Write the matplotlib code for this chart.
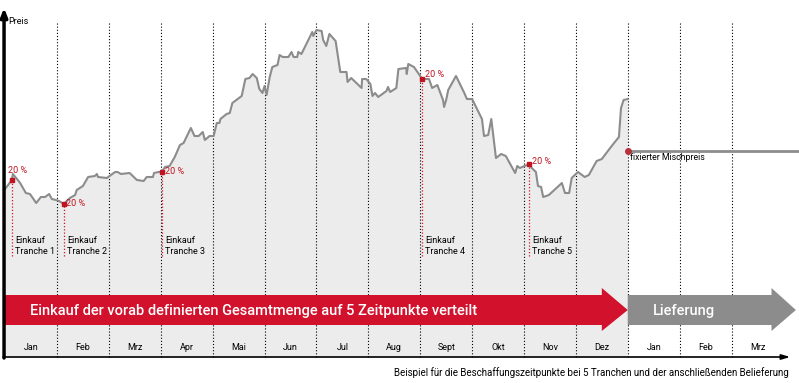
import numpy as np
import matplotlib.pyplot as plt
from matplotlib.patches import Polygon

plt.rcParams['font.family'] = ['Roboto', 'DejaVu Sans']

# price path (month position, price index)
months = np.array([
    0.00, 0.13, 0.15, 0.29, 0.40, 0.48, 0.60, 0.69, 0.77, 0.85, 0.90, 0.98,
    1.04, 1.13, 1.25, 1.35, 1.38, 1.50, 1.60, 1.73, 1.77, 1.79, 1.96, 2.12,
    2.17, 2.23, 2.40, 2.54, 2.67, 2.73, 2.85, 2.87, 2.96, 3.02, 3.08, 3.17,
    3.27, 3.37, 3.44, 3.58, 3.65, 3.73, 3.81, 3.85, 3.94, 4.02, 4.08, 4.13,
    4.15, 4.27, 4.33, 4.38, 4.56, 4.63, 4.71, 4.77, 4.85, 4.90, 4.96, 5.00,
    5.04, 5.10, 5.15, 5.25, 5.29, 5.35, 5.46, 5.52, 5.56, 5.63, 5.65, 5.71,
    5.73, 5.92, 5.94, 6.00, 6.10, 6.13, 6.19, 6.25, 6.37, 6.46, 6.58, 6.60,
    6.67, 6.87, 6.88, 6.96, 7.04, 7.08, 7.13, 7.19, 7.35, 7.38, 7.42, 7.54,
    7.58, 7.73, 7.74, 7.77, 7.88, 7.96, 8.04, 8.17, 8.23, 8.33, 8.44, 8.46,
    8.50, 8.54, 8.69, 8.85, 8.90, 9.00, 9.19, 9.23, 9.31, 9.37, 9.46, 9.56,
    9.65, 9.83, 9.87, 9.92, 10.10, 10.15, 10.23, 10.27, 10.33, 10.37, 10.48,
    10.73, 10.79, 10.87, 10.92, 11.04, 11.17, 11.25, 11.40, 11.50, 11.69,
    11.83, 11.87, 11.92, 12.00,
])
prices = np.array([
    168, 177, 183, 174, 164, 163, 154, 160, 160, 163, 158, 157,
    156, 153, 159, 162, 167, 171, 180, 181, 183, 180, 179, 185,
    185, 183, 184, 177, 176, 180, 180, 184, 185, 185, 190, 191,
    200, 212, 214, 229, 221, 221, 225, 217, 221, 221, 234, 234,
    238, 243, 244, 254, 261, 278, 279, 283, 279, 268, 264, 271,
    262, 280, 290, 292, 302, 300, 300, 305, 300, 300, 305, 303,
    305, 325, 321, 327, 326, 317, 311, 323, 316, 285, 285, 275,
    279, 269, 278, 278, 273, 261, 264, 260, 266, 270, 265, 269,
    288, 289, 283, 293, 290, 284, 278, 278, 269, 272, 257, 250,
    257, 267, 281, 264, 258, 258, 238, 221, 222, 238, 199, 203,
    201, 184, 191, 189, 193, 189, 185, 171, 170, 160, 162,
    174, 164, 164, 179, 185, 180, 182, 196, 198, 211,
    220, 249, 257, 258,
])

tranche_months = [0.13, 1.13, 3.02, 8.04, 10.10]
tranche_names = ['Tranche 1', 'Tranche 2', 'Tranche 3', 'Tranche 4', 'Tranche 5']
tranche_share = 20
fixed_price = 206
month_labels = ['Jan', 'Feb', 'Mrz', 'Apr', 'Mai', 'Jun', 'Jul', 'Aug',
                'Sept', 'Okt', 'Nov', 'Dez', 'Jan', 'Feb', 'Mrz']
n_buy = 12  # months of purchasing, the rest is delivery

red = '#d2112c'
dark_red = '#c0121f'
grey = '#8c8c8c'

fig = plt.figure(figsize=(7.99, 3.83), dpi=100)
ax = fig.add_axes([0, 0, 1, 1])
ax.set_xlim(-0.098, 15.30)
ax.set_ylim(-26, 357)
ax.axis('off')

# price area and line
ax.fill_between(months, prices, 0, color='#ececec', lw=0, zorder=1)
ax.plot(months, prices, color=grey, lw=1.5, zorder=3)

# month separators
for b in range(1, len(month_labels)):
    ax.plot([b, b], [0, 335], color='black', lw=0.8, ls=(0, (1, 1.8)), zorder=2)

# month labels
for i, lab in enumerate(month_labels):
    ax.text(i + 0.5, 10, lab, ha='center', va='center', fontsize=6.5, zorder=6)

# tranches
label_offsets = [(-3, 7), (2, 0), (2, 0), (2, 3), (2, 2)]
for t, name, off in zip(tranche_months, tranche_names, label_offsets):
    i = int(np.argmin(np.abs(months - t)))
    m, v = months[i], prices[i]
    ax.plot([m, m], [101, v], color=red, lw=0.9, ls=(0, (1, 1.6)), zorder=2)
    ax.plot(m, v, 's', ms=3.5, color=dark_red, zorder=5)
    ax.annotate(f'{tranche_share} %', (m, v), xytext=off, textcoords='offset points',
                ha='left', va='center', color=dark_red, fontsize=6.5, zorder=6)
    ax.text(m + 0.06, 111, 'Einkauf\n' + name, ha='left', va='center',
            fontsize=6.5, linespacing=1.3, zorder=6)

# fixed mixed price after purchasing
ax.plot([n_buy, 15.3], [fixed_price, fixed_price], color=grey, lw=2, zorder=3)
ax.plot(n_buy, fixed_price, 'o', ms=4, color='#b5323c', zorder=5)
ax.text(n_buy + 0.05, fixed_price - 7, 'fixierter Mischpreis', ha='left', va='center',
        fontsize=6.3, zorder=6)

# phase arrows
buy = Polygon([(-0.02, 32), (11.5, 32), (11.5, 26), (n_buy, 47), (11.5, 69),
               (11.5, 62), (-0.02, 62)], closed=True, color=red, lw=0, zorder=4)
ax.add_patch(buy)
deliver = Polygon([(n_buy, 32), (14.77, 32), (14.77, 26), (15.24, 47), (14.77, 69),
                   (14.77, 62), (n_buy, 62)], closed=True, color=grey, lw=0, zorder=4)
ax.add_patch(deliver)
ax.text(0.48, 46, 'Einkauf der vorab definierten Gesamtmenge auf 5 Zeitpunkte verteilt',
        color='white', fontsize=10.5, fontweight='medium', ha='left', va='center', zorder=6)
ax.text(12.48, 46, 'Lieferung', color='white', fontsize=10.5, fontweight='medium',
        ha='left', va='center', zorder=6)

# axes with arrow heads
ax.annotate('', xy=(-0.02, 349), xytext=(-0.02, -1),
            arrowprops=dict(arrowstyle='-|>,head_length=0.5,head_width=0.2',
                            lw=2.5, color='black', shrinkA=0, shrinkB=0), zorder=7)
ax.annotate('', xy=(15.13, 0), xytext=(-0.04, 0),
            arrowprops=dict(arrowstyle='-|>,head_length=0.5,head_width=0.15',
                            lw=1.2, color='black', shrinkA=0, shrinkB=0), zorder=7)
ax.text(0.06, 335, 'Preis', ha='left', va='center', fontsize=6.5)

ax.text(15.1, -16, 'Beispiel für die Beschaffungszeitpunkte bei 5 Tranchen und der '
        'anschließenden Belieferung', ha='right', va='center', fontsize=7.05)

fig.savefig('out.png', dpi=100)
